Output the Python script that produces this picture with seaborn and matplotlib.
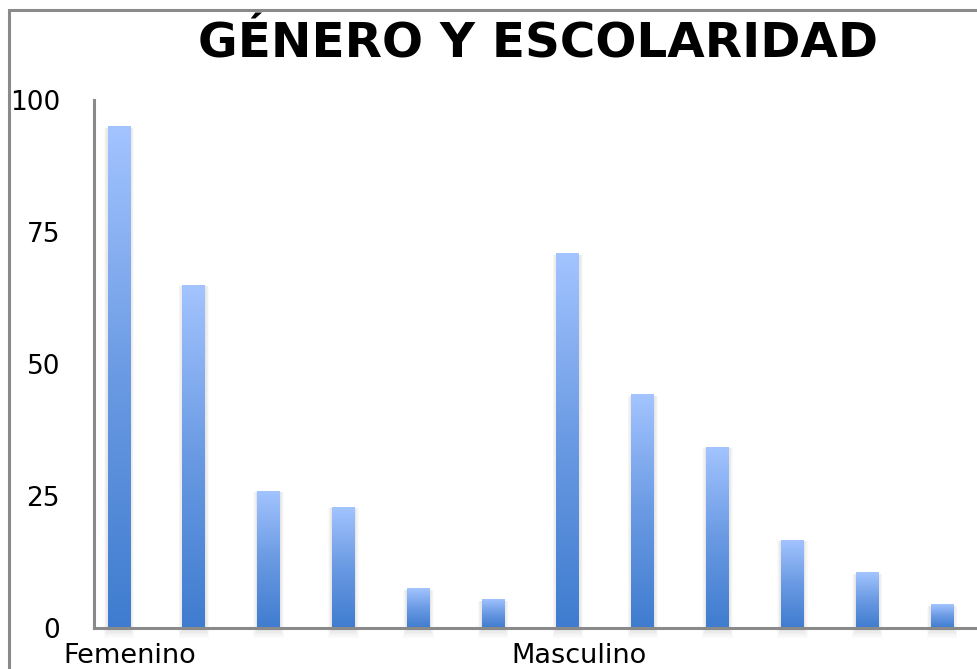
import numpy as np
import pandas as pd
import matplotlib
matplotlib.use("Agg")
import matplotlib.pyplot as plt
import matplotlib.transforms as mtransforms
from matplotlib.patches import Rectangle
from matplotlib.colors import LinearSegmentedColormap
import seaborn as sns

# Data: six schooling levels per gender
genero = ["Femenino"] * 6 + ["Masculino"] * 6
nivel = [f"N{i}" for i in range(1, 7)] * 2
valores = [95, 65, 26, 23, 7.5, 5.5, 71, 44.3, 34.3, 16.7, 10.6, 4.5]
etiquetas_x = ["Femenino", "", "", "", "", "", "Masculino", "", "", "", "", ""]
ticks_y = [0, 25, 50, 75, 100]
titulo = "GÉNERO Y ESCOLARIDAD"

df = pd.DataFrame({"genero": genero, "nivel": nivel, "valor": valores})
df["clave"] = [f"{g}-{n}" for g, n in zip(genero, nivel)]

sns.set_theme(style="white")
plt.rcParams["font.family"] = ["DejaVu Sans"]

W, H = 978, 669
fig = plt.figure(figsize=(W / 100, H / 100), dpi=100)

# outer chart frame (runs off the right/bottom edges)
fig.patches.append(Rectangle((8.5 / W, -0.05), 1.2, (H - 9.5) / H + 0.05,
                             transform=fig.transFigure, fill=False,
                             edgecolor="#8a8a8a", linewidth=2.2, zorder=0))

ax = fig.add_axes([94 / W, (H - 628) / H, (W - 94) / W, 528 / H])
ax.patch.set_alpha(0)

sns.barplot(data=df, x="clave", y="valor", order=list(df["clave"]),
            width=0.307, color="#6e9be0", ax=ax, errorbar=None, zorder=3)

# vertical gradient fill + soft shadow for every bar
cmap = LinearSegmentedColormap.from_list("grad", ["#3f7ccf", "#6a9ae3", "#a3c4ff"])
grad = np.linspace(0, 1, 256).reshape(-1, 1)
for p in list(ax.patches):
    x0, y0 = p.get_x(), p.get_y()
    w, h = p.get_width(), p.get_height()
    for k in range(1, 6):
        dx = 0.01 * k
        dy = 0.3 * k
        ax.add_patch(Rectangle((x0 - dx, y0 - dy - 0.3), w + 2 * dx, h + dy,
                               facecolor="#000000", alpha=0.018, edgecolor="none",
                               zorder=1, clip_on=False))
    p.set_facecolor("none")
    p.set_edgecolor("none")
    im = ax.imshow(grad, cmap=cmap, origin="lower", aspect="auto",
                   extent=(x0, x0 + w, y0, y0 + h), zorder=3)
    im.set_clip_path(p)
ax.set_xlim(-0.334, 11.48)
ax.set_ylim(0, 100)

# axes styling
for s in ["top", "right"]:
    ax.spines[s].set_visible(False)
for s in ["left", "bottom"]:
    ax.spines[s].set_color("#8a8a8a")
    ax.spines[s].set_linewidth(2.2)
    ax.spines[s].set_zorder(4)

ax.set_yticks(ticks_y)
ax.set_yticklabels([str(t) for t in ticks_y])
ax.tick_params(axis="y", length=0, pad=24.5, labelsize=19, labelcolor="black")
ax.set_xticks(range(len(etiquetas_x)))
ax.set_xticklabels(etiquetas_x)
ax.tick_params(axis="x", length=0, pad=11, labelsize=19.5, labelcolor="black")
offset = mtransforms.ScaledTranslation(11 / 100, 0, fig.dpi_scale_trans)
for lbl in ax.get_xticklabels():
    lbl.set_transform(lbl.get_transform() + offset)
ax.set_xlabel("")
ax.set_ylabel("")

fig.text(538 / W, 1 - 58 / H, titulo, ha="center", va="baseline",
         fontsize=34.8, fontweight="bold", color="black")

fig.savefig("out.png", dpi=100)
